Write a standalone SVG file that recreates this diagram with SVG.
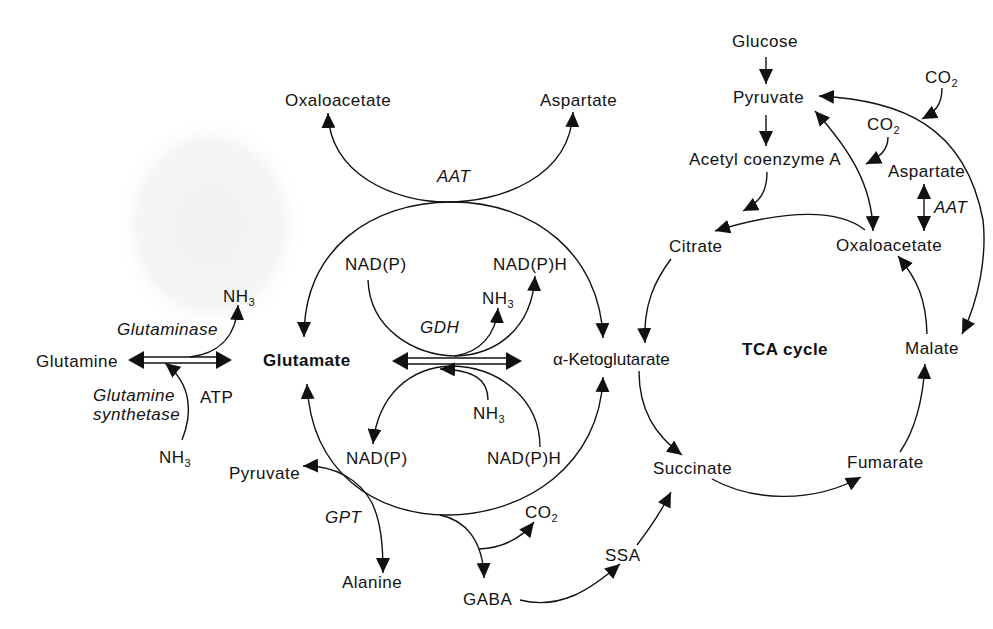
<svg xmlns="http://www.w3.org/2000/svg" width="993" height="629" viewBox="0 0 993 629">
<style>
text{font-family:"Liberation Sans",Arial,sans-serif;font-size:17px;letter-spacing:0.5px;fill:#111}
.i{font-style:italic}
.b{font-weight:bold}
.s{font-size:11px;letter-spacing:0}
.c{fill:none;stroke:#111;stroke-width:1.4}
.ah{marker-end:url(#ah)}
.ah2{marker-start:url(#ah);marker-end:url(#ah)}
.hd{fill:#111;stroke:none}
</style>
<defs>
<marker id="ah" viewBox="0 0 15 14" refX="15" refY="7" markerWidth="15" markerHeight="14" markerUnits="userSpaceOnUse" orient="auto-start-reverse"><path d="M0,0 L15,7 L0,14 z" fill="#111"/></marker>
<radialGradient id="sp" cx="0.5" cy="0.5" r="0.5"><stop offset="0" stop-color="#f1f1f1"/><stop offset="0.75" stop-color="#f5f5f5"/><stop offset="1" stop-color="#ffffff" stop-opacity="0"/></radialGradient>
</defs>
<rect width="993" height="629" fill="#fff"/>
<ellipse cx="210" cy="225" rx="95" ry="110" fill="url(#sp)"/>

<g id="connectors">
<line class="c" x1="140" y1="357" x2="220" y2="357"/>
<line class="c" x1="140" y1="363" x2="220" y2="363"/>
<polygon class="hd" points="128,360 144,351 144,369"/>
<polygon class="hd" points="232,360 216,351 216,369"/>
<path class="c ah" d="M190,357 C215,354 236,340 238,305"/>
<path class="c ah" d="M182,440 C192,415 193,385 165,363"/>
<path class="c ah2" d="M328,113 C330,175 395,202 447,202 C500,202 570,178 573,112"/>
<path class="c ah2" d="M304,337 C304,250 370,202 452,202 C535,202 600,255 603,338"/>
<path class="c ah2" d="M307,384 C311,472 375,515 447,515 C525,515 600,465 603,377"/>
<line class="c" x1="404" y1="358" x2="510" y2="358"/>
<line class="c" x1="404" y1="364" x2="510" y2="364"/>
<polygon class="hd" points="392,361 408,352 408,370"/>
<polygon class="hd" points="522,361 506,352 506,370"/>
<path class="c ah" d="M368,280 C370,330 415,355 455,356 C495,355 532,330 535,276"/>
<path class="c ah" d="M455,356 C480,352 496,335 498,308"/>
<path class="c ah" d="M540,447 C540,400 500,367 452,366 C410,367 378,395 373,444"/>
<path class="c ah" d="M488,400 C488,380 475,370 440,369"/>
<path class="c ah2" d="M303,466 C335,465 360,480 372,503 C381,522 383,545 383,573"/>
<path class="c ah" d="M440,515 C465,520 483,540 484,578"/>
<path class="c ah" d="M479,549 C500,548 520,540 534,522"/>
<path class="c ah" d="M520,600 C560,610 590,590 620,564"/>
<path class="c ah" d="M637,545 C650,528 662,510 671,492"/>
<path class="c ah" d="M712,479 C750,500 810,505 861,477"/>
<path class="c ah" d="M900,452 C915,430 923,400 925,364"/>
<path class="c ah" d="M927,334 C926,300 918,280 898,256"/>
<path class="c ah" d="M865,230 C840,210 790,208 715,231"/>
<path class="c ah" d="M671,259 C655,280 643,305 645,343"/>
<path class="c ah" d="M639,371 C639,410 655,435 682,455"/>
<path class="c ah" d="M766,57 L766,84"/>
<path class="c ah" d="M766,115 L766,146"/>
<path class="c ah" d="M767,172 C767,192 760,202 743,211"/>
<path class="c ah2" d="M815,111 C850,150 872,185 873,231"/>
<path class="c ah2" d="M924,184 L924,231"/>
<path class="c ah" d="M942,88 C942,105 935,112 922,119"/>
<path class="c ah" d="M888,137 C888,150 880,157 866,164"/>
<path class="c ah2" d="M819,96 C900,100 965,125 983,220 C987,255 979,300 962,334"/>
</g>

<g id="n-glutamine"><text x="36" y="367">Glutamine</text></g>
<g id="n-nh3-a"><text x="223" y="302">NH<tspan class="s" dy="4">3</tspan></text></g>
<g id="n-glutaminase"><text class="i" x="117" y="335">Glutaminase</text></g>
<g id="n-gs"><text class="i" x="93" y="401">Glutamine</text><text class="i" x="93" y="420">synthetase</text></g>
<g id="n-atp"><text x="200" y="403">ATP</text></g>
<g id="n-nh3-b"><text x="159" y="463">NH<tspan class="s" dy="4">3</tspan></text></g>

<g id="n-oaa-top"><text x="285" y="106">Oxaloacetate</text></g>
<g id="n-asp-top"><text x="540" y="106">Aspartate</text></g>
<g id="n-aat-top"><text class="i" x="437" y="182">AAT</text></g>
<g id="n-nadp-top"><text x="345" y="270">NAD(P)</text></g>
<g id="n-nadph-top"><text x="493" y="270">NAD(P)H</text></g>
<g id="n-nh3-c"><text x="482" y="304">NH<tspan class="s" dy="4">3</tspan></text></g>
<g id="n-gdh"><text class="i" x="420" y="333">GDH</text></g>
<g id="n-glutamate"><text class="b" x="263" y="366">Glutamate</text></g>
<g id="n-akg"><text x="553" y="365" style="letter-spacing:0">α-Ketoglutarate</text></g>
<g id="n-nh3-d"><text x="473" y="419">NH<tspan class="s" dy="4">3</tspan></text></g>
<g id="n-nadp-bot"><text x="346" y="464">NAD(P)</text></g>
<g id="n-nadph-bot"><text x="487" y="464">NAD(P)H</text></g>
<g id="n-pyr-left"><text x="229" y="479">Pyruvate</text></g>
<g id="n-gpt"><text class="i" x="325" y="523">GPT</text></g>
<g id="n-co2-bot"><text x="525" y="518">CO<tspan class="s" dy="4">2</tspan></text></g>
<g id="n-alanine"><text x="342" y="588">Alanine</text></g>
<g id="n-gaba"><text x="463" y="605">GABA</text></g>
<g id="n-ssa"><text x="605" y="561">SSA</text></g>

<g id="n-glucose"><text x="732" y="47">Glucose</text></g>
<g id="n-co2-a"><text x="925" y="83">CO<tspan class="s" dy="4">2</tspan></text></g>
<g id="n-pyruvate"><text x="733" y="103">Pyruvate</text></g>
<g id="n-co2-b"><text x="867" y="130">CO<tspan class="s" dy="4">2</tspan></text></g>
<g id="n-acoa"><text x="689" y="165">Acetyl coenzyme A</text></g>
<g id="n-asp"><text x="888" y="177">Aspartate</text></g>
<g id="n-aat"><text class="i" x="934" y="213">AAT</text></g>
<g id="n-citrate"><text x="669" y="252">Citrate</text></g>
<g id="n-oaa"><text x="836" y="251">Oxaloacetate</text></g>
<g id="n-tca"><text class="b" x="742" y="355">TCA cycle</text></g>
<g id="n-malate"><text x="905" y="354">Malate</text></g>
<g id="n-succinate"><text x="653" y="474">Succinate</text></g>
<g id="n-fumarate"><text x="847" y="468">Fumarate</text></g>
</svg>
